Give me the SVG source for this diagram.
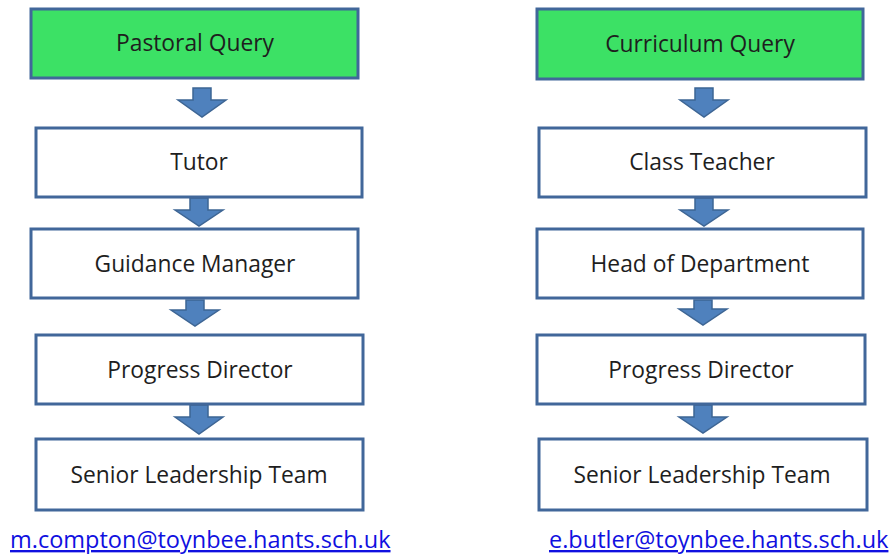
<svg xmlns="http://www.w3.org/2000/svg" width="893" height="555" viewBox="0 0 893 555">
<style>
.box{fill:#ffffff;stroke:#41679A;stroke-width:3}
.green{fill:#3CE165}
.lbl{font-family:"Open Sans","Liberation Sans",sans-serif;font-size:22.8px;fill:#1e1e1e;text-anchor:middle}
.arr{fill:#4F81BD;stroke:#3D6594;stroke-width:1.5}
.mail{font-family:"Open Sans","Liberation Sans",sans-serif;font-size:23.5px;fill:#1010E0;text-decoration:underline}
</style>
<rect width="893" height="555" fill="#ffffff"/>
<g id="connectors">
<path class="arr" d="M193,88 h18 v12 h15 l-24,17 l-24,-17 h15 z"/>
<path class="arr" d="M190,198 h18 v12 h15 l-24,16 l-24,-16 h15 z"/>
<path class="arr" d="M186,300 h18 v10 h15 l-24,16 l-24,-16 h15 z"/>
<path class="arr" d="M190,405 h18 v12 h15 l-24,17 l-24,-17 h15 z"/>
<path class="arr" d="M695,88 h18 v12 h15 l-24,17 l-24,-17 h15 z"/>
<path class="arr" d="M695,198 h18 v12 h15 l-24,16 l-24,-16 h15 z"/>
<path class="arr" d="M694,300 h18 v9 h15 l-24,16 l-24,-16 h15 z"/>
<path class="arr" d="M694,405 h18 v12 h15 l-24,16 l-24,-16 h15 z"/>
</g>
<g id="pastoral"><rect class="box green" x="31" y="9" width="327" height="69"/><text class="lbl" x="195" y="51">Pastoral Query</text></g>
<g id="tutor"><rect class="box" x="36" y="128" width="326" height="69"/><text class="lbl" x="199" y="170">Tutor</text></g>
<g id="guidance"><rect class="box" x="31" y="229" width="327" height="69"/><text class="lbl" x="195" y="272">Guidance Manager</text></g>
<g id="progress-l"><rect class="box" x="36" y="335" width="327" height="69"/><text class="lbl" x="200" y="378">Progress Director</text></g>
<g id="slt-l"><rect class="box" x="36" y="439" width="327" height="71"/><text class="lbl" x="199" y="483">Senior Leadership Team</text></g>
<g id="curriculum"><rect class="box green" x="537" y="9" width="326" height="70"/><text class="lbl" x="700" y="52">Curriculum Query</text></g>
<g id="teacher"><rect class="box" x="539" y="128" width="327" height="69"/><text class="lbl" x="702" y="170">Class Teacher</text></g>
<g id="hod"><rect class="box" x="537" y="229" width="326" height="69"/><text class="lbl" x="700" y="272">Head of Department</text></g>
<g id="progress-r"><rect class="box" x="537" y="335" width="328" height="69"/><text class="lbl" x="701" y="378">Progress Director</text></g>
<g id="slt-r"><rect class="box" x="539" y="439" width="328" height="71"/><text class="lbl" x="702" y="483">Senior Leadership Team</text></g>
<g id="emails">
<text class="mail" x="10" y="548">m.compton@toynbee.hants.sch.uk</text>
<text class="mail" x="549" y="548">e.butler@toynbee.hants.sch.uk</text>
</g>
</svg>
